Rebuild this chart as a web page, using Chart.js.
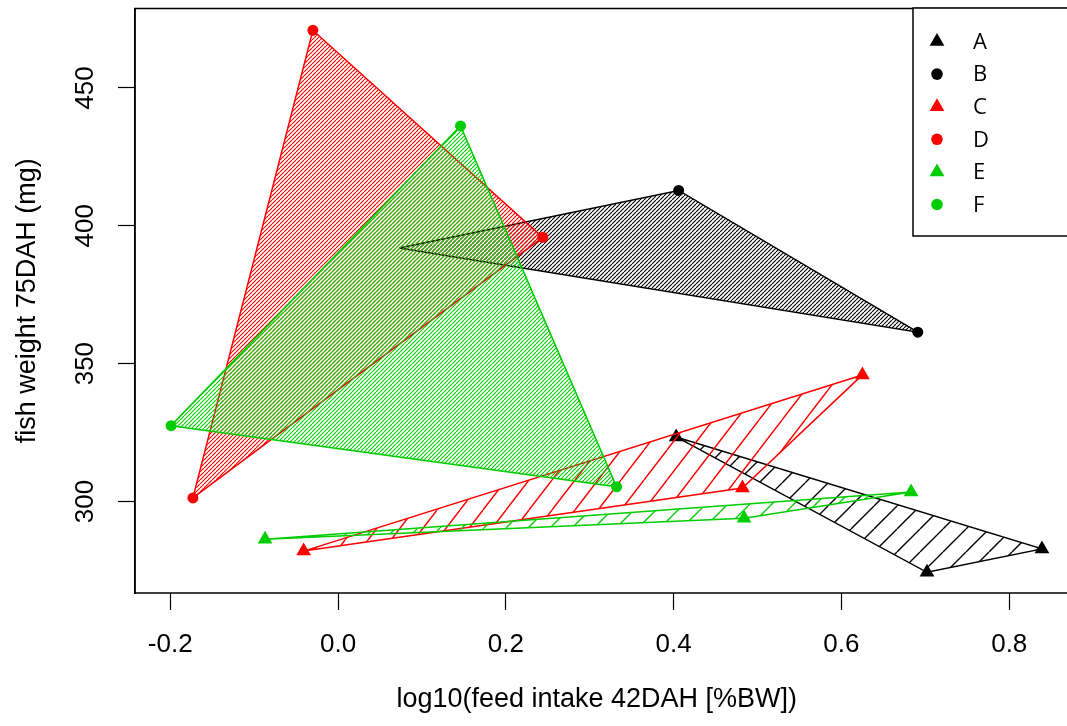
<!DOCTYPE html>
<html><head><meta charset="utf-8">
<script src="https://cdn.jsdelivr.net/npm/chart.js@4/dist/chart.umd.min.js"></script>
<style>html,body{margin:0;padding:0;background:#fff;overflow:hidden}canvas{display:block}</style>
</head><body>
<canvas id="c" width="1067" height="726"></canvas>
<script>
// ---- data ----
const groups = ['A', 'B', 'C', 'D', 'E', 'F'];
const xA = [0.403, 0.702, 0.839];   const yA = [323.4, 274.3, 282.8];
const xB = [0.073, 0.406, 0.691];   const yB = [391.9, 412.8, 361.4];
const xC = [-0.041, 0.625, 0.482];  const yC = [282.0, 345.9, 304.9];
const xD = [-0.173, -0.030, 0.244]; const yD = [301.3, 470.9, 395.8];
const xE = [-0.087, 0.484, 0.683];  const yE = [286.3, 293.9, 303.4];
const xF = [-0.199, 0.146, 0.332];  const yF = [327.5, 436.2, 305.3];
const xTicks = [-0.2, 0.0, 0.2, 0.4, 0.6, 0.8];
const yTicks = [300, 350, 400, 450];
const xTitle = 'log10(feed intake 42DAH [%BW])';
const yTitle = 'fish weight 75DAH (mg)';

// ---- style ----
const colors = ['#000000', '#000000', '#FF0000', '#FF0000', '#00CD00', '#00CD00'];
const shapes = ['triangle', 'circle', 'triangle', 'circle', 'triangle', 'circle'];
const hatchTile = [[23, 23], [4, 4], [23, 30], [4, 4], [22, 22], [4, 4]];
const markerShown = [[1,1,1],[0,1,1],[1,1,1],[1,1,1],[1,1,1],[1,1,1]];
const radiusFor = s => s === 'triangle' ? 8.5 : 5.5;
const xViewMin = -0.242;       // left edge of the plot region
const xPixelsPerUnit = 839;    // horizontal scale of the reference plot

const canvas = document.getElementById('c');
const ctx = canvas.getContext('2d');

function makeHatch(color, w, h, lw) {
  const c = document.createElement('canvas');
  c.width = w; c.height = h;
  const g = c.getContext('2d');
  g.strokeStyle = color; g.lineWidth = lw;
  g.beginPath();
  for (const dx of [-w, 0, w]) { g.moveTo(dx, h); g.lineTo(dx + w, 0); }
  g.stroke();
  return ctx.createPattern(c, 'repeat');
}

const xs = [xA, xB, xC, xD, xE, xF];
const ys = [yA, yB, yC, yD, yE, yF];

const datasets = groups.map((g, i) => {
  const pts = xs[i].map((x, k) => ({ x: x, y: ys[i][k] }));
  pts.push({ x: pts[0].x, y: pts[0].y });
  const r = radiusFor(shapes[i]);
  const radii = markerShown[i].map(m => m ? r : 0).concat([0]);
  const [tw, th] = hatchTile[i];
  return {
    label: g,
    data: pts,
    showLine: true,
    fill: 'shape',
    backgroundColor: makeHatch(colors[i], tw, th, tw > 6 ? 1.4 : 1.1),
    borderColor: colors[i],
    borderWidth: 1.5,
    tension: 0,
    pointStyle: shapes[i],
    pointRadius: radii,
    pointHoverRadius: radii,
    pointBackgroundColor: colors[i],
    pointBorderColor: colors[i],
    pointBorderWidth: 0,
    order: groups.length - 1 - i
  };
});

const boxPlugin = {
  id: 'box',
  afterDatasetsDraw(chart) {
    const a = chart.chartArea, c = chart.ctx;
    c.save();
    c.strokeStyle = '#000'; c.lineWidth = 1.5;
    c.strokeRect(a.left, a.top, chart.width + 20 - a.left, a.bottom - a.top);
    c.restore();
  }
};

const legendPlugin = {
  id: 'rlegend',
  afterDraw(chart) {
    const c = chart.ctx;
    c.save();
    c.fillStyle = '#fff';
    c.fillRect(913, 8, 170, 228);
    c.strokeStyle = '#000'; c.lineWidth = 1.5;
    c.strokeRect(913, 8, 170, 228);
    groups.forEach((g, i) => {
      const y = 41.5 + i * 32.6, x = 937;
      c.fillStyle = colors[i];
      c.beginPath();
      if (shapes[i] === 'triangle') {
        const r = 8.5;
        c.moveTo(x, y - r);
        c.lineTo(x + r * Math.sin(2 * Math.PI / 3), y + r / 2);
        c.lineTo(x - r * Math.sin(2 * Math.PI / 3), y + r / 2);
        c.closePath();
      } else {
        c.arc(x, y, 5.8, 0, Math.PI * 2);
      }
      c.fill();
      c.fillStyle = '#000';
      c.font = '22px "Open Sans"';
      c.textAlign = 'left'; c.textBaseline = 'middle';
      c.fillText(g, 973, y + 1);
    });
    c.restore();
  }
};

const tickFont = { family: 'Liberation Sans', size: 26 };
const titleFont = { family: 'Liberation Sans', size: 27 };

const chart = new Chart(canvas, {
  type: 'scatter',
  data: { datasets: datasets },
  options: {
    responsive: false,
    devicePixelRatio: 1,
    animation: false,
    layout: { padding: { top: 8, left: 0, right: 0, bottom: 0 } },
    plugins: { legend: { display: false }, tooltip: { enabled: false } },
    scales: {
      x: {
        type: 'linear', position: 'bottom', min: xViewMin, max: 0.869,
        afterBuildTicks: s => { s.ticks = xTicks.map(v => ({ value: v })); },
        afterFit: s => { s.height = 133; s.paddingLeft = 0; s.paddingRight = 0; },
        ticks: { callback: v => Number(v).toFixed(1), font: tickFont, color: '#000', padding: 19, maxRotation: 0, autoSkip: false },
        grid: { drawOnChartArea: false, drawTicks: true, tickLength: 17, color: '#000', tickWidth: 1.2 },
        border: { display: false },
        title: { display: true, text: xTitle, font: titleFont, color: '#000', padding: { top: 0, bottom: 10 } }
      },
      y: {
        type: 'linear', position: 'left', min: 266.8, max: 478.8,
        afterBuildTicks: s => { s.ticks = yTicks.map(v => ({ value: v })); },
        afterFit: s => { s.width = 135; s.paddingTop = 0; s.paddingBottom = 0; },
        ticks: { callback: v => String(v), font: tickFont, color: '#000', padding: 10, minRotation: 90, maxRotation: 90, crossAlign: 'center', autoSkip: false },
        grid: { drawOnChartArea: false, drawTicks: true, tickLength: 17, color: '#000', tickWidth: 1.2 },
        border: { display: true, color: '#000', width: 1.5 },
        title: { display: true, text: yTitle, font: titleFont, color: '#000', padding: { top: 11, bottom: 0 } }
      }
    }
  },
  plugins: [boxPlugin, legendPlugin]
});

// keep the reference's horizontal scale for whatever width the plot region got
const area = chart.chartArea;
chart.options.scales.x.max = xViewMin + (area.right - area.left) / xPixelsPerUnit;
chart.update();
</script>
</body></html>
